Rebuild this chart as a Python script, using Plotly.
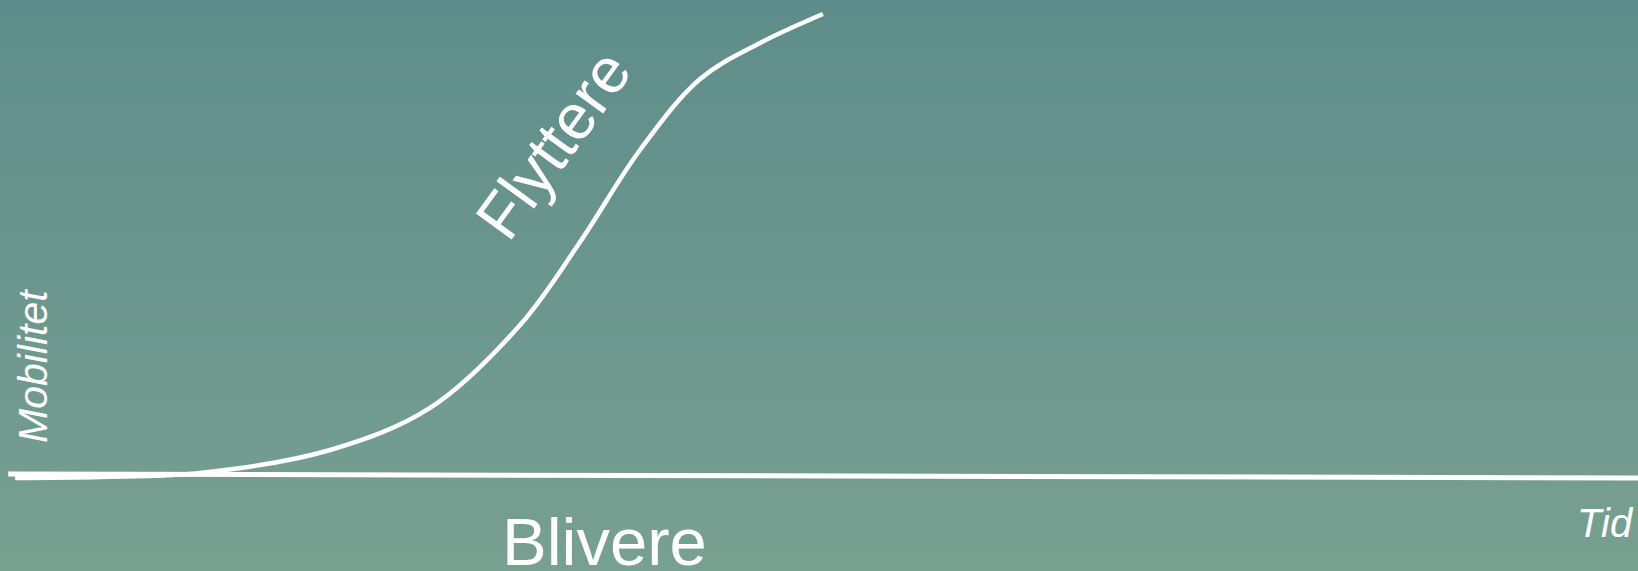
import plotly.graph_objects as go

# S-curve "Flyttere" (time, mobility) in chart units 0-100
curve_t = [0.92, 6.11, 12.21, 20.15, 26.25, 31.75, 35.41, 39.07, 42.74, 46.40, 50.24]
curve_m = [16.29, 16.46, 17.16, 21.19, 28.55, 43.08, 57.62, 73.73, 86.16, 92.47, 97.55]

# baseline "Blivere"
base_t = [0.5, 100.0]
base_m = [17.0, 16.3]

labels = {"curve": "Flyttere", "base": "Blivere", "x": "Tid", "y": "Mobilitet"}

W, H = 1638, 571

fig = go.Figure()

# vertical gradient background
top = (95, 141, 139)
bot = (120, 160, 145)
n = 60
shapes = []
for i in range(n):
    f = i / (n - 1)
    c = tuple(round(top[k] + (bot[k] - top[k]) * f) for k in range(3))
    shapes.append(dict(type="rect", xref="paper", yref="paper",
                       x0=0, x1=1, y0=1 - (i + 1) / n - 0.002, y1=1 - i / n,
                       fillcolor="rgb(%d,%d,%d)" % c, line=dict(width=0), layer="below"))

fig.add_trace(go.Scatter(x=base_t, y=base_m, mode="lines",
                         line=dict(color="white", width=5), hoverinfo="skip"))
fig.add_trace(go.Scatter(x=curve_t, y=curve_m, mode="lines",
                         line=dict(color="white", width=4.5, shape="spline", smoothing=1.0),
                         hoverinfo="skip"))

font = "Liberation Sans, Arial, sans-serif"
ann = [
    dict(x=553 / W * 100, y=100 - 145 / H * 100, text=labels["curve"], textangle=-54,
         font=dict(size=64, color="white", family=font)),
    dict(x=604 / W * 100, y=100 - 541 / H * 100, text=labels["base"],
         font=dict(size=67, color="white", family=font)),
    dict(x=1605 / W * 100, y=100 - 523 / H * 100, text="<i>%s</i>" % labels["x"],
         font=dict(size=40, color="white", family=font)),
    dict(x=33 / W * 100, y=100 - 366 / H * 100, text="<i>%s</i>" % labels["y"], textangle=-90,
         font=dict(size=41, color="white", family=font)),
]
for a in ann:
    a.update(xref="x", yref="y", showarrow=False, xanchor="center", yanchor="middle")

fig.update_layout(
    width=W, height=H, margin=dict(l=0, r=0, t=0, b=0),
    paper_bgcolor="rgb(108,150,142)", plot_bgcolor="rgba(0,0,0,0)",
    showlegend=False, shapes=shapes, annotations=ann,
    xaxis=dict(range=[0, 100], visible=False, fixedrange=True),
    yaxis=dict(range=[0, 100], visible=False, fixedrange=True),
)

fig.write_html("out.html", config={"displayModeBar": False},
               post_script="document.body.style.margin='0px';document.body.style.overflow='hidden';")
